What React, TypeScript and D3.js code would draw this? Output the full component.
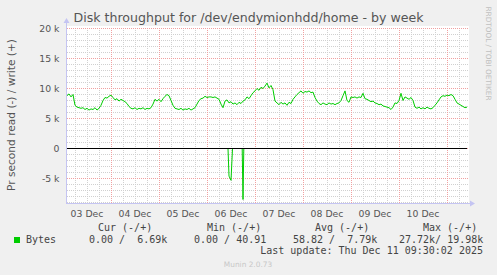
import React from "react";
import * as d3 from "d3";

const W = 497;
const H = 275;

// ---- data ----
const title = "Disk throughput for /dev/endymionhdd/home - by week";
const yAxisTitle = "Pr second read (-) / write (+)";
const startTime = new Date(Date.UTC(2025, 11, 3, 2, 0));
const endTime = new Date(Date.UTC(2025, 11, 11, 10, 0));
const dayLabels = ["03 Dec", "04 Dec", "05 Dec", "06 Dec", "07 Dec", "08 Dec", "09 Dec", "10 Dec"];
const yTicks = [-5, 0, 5, 10, 15, 20];

// write (+) values in k bytes/s, one per hour from startTime
const writeValues = [
  8.8, 9.1, 8.6, 9.0, 7.2, 6.9, 6.8, 6.7, 6.8,
  6.5, 6.7, 6.4, 6.6, 6.5, 6.8, 6.4, 6.7,
  7.2, 8.0, 8.5, 8.4, 8.7, 8.9, 8.5,
  8.1, 8.3, 7.9, 8.2, 8.0, 7.8, 7.5, 7.0,
  6.7, 6.6, 6.8, 6.5, 6.7, 6.6, 6.8, 6.5, 6.7, 6.6, 6.8,
  7.4, 8.2, 7.9, 8.2, 7.8, 8.3,
  8.7, 9.0, 8.8, 8.0, 7.2, 6.7,
  6.6, 6.5, 6.7, 6.4, 6.6, 6.5, 6.7, 6.4, 6.6, 6.8,
  7.4, 8.0, 8.3, 8.4, 8.7, 8.5, 8.6, 8.6,
  8.5, 8.6, 8.4, 8.2, 7.4, 6.8, 7.9, 8.1,
  7.6, 7.8, 7.4, 7.6, 7.3, 7.7, 7.5, 7.9, 8.1,
  8.6, 8.3, 8.8,
  9.3, 9.6, 10.0, 9.7, 10.2, 10.0, 10.4, 10.9, 10.1, 10.5, 9.8,
  7.9, 7.6, 7.3, 7.7, 7.4, 7.6, 7.2, 7.7, 7.5,
  8.2, 8.6, 9.0, 9.3, 9.6, 9.2, 9.5, 9.4, 9.6, 9.3, 9.4,
  8.5, 7.9, 7.5, 7.3, 7.6, 7.4, 7.3, 7.6, 7.4, 7.5, 7.3, 7.5,
  7.6, 8.0, 8.8, 9.6, 8.0, 7.7, 8.6,
  8.5, 8.6, 8.4, 8.6, 8.5, 9.2, 8.3, 8.2,
  8.0, 7.8, 7.9, 7.6, 7.5, 7.3, 7.4, 7.1, 7.0, 6.9,
  6.8, 6.5, 6.9, 7.6, 7.5, 8.0,
  9.2, 8.0, 8.6, 8.4, 8.2, 8.5, 8.0,
  6.9, 6.7, 6.9, 6.6, 6.8, 6.6, 6.9, 6.7, 6.6, 6.8,
  7.2, 7.6, 8.1, 8.6, 8.8, 8.7, 8.9, 8.8, 9.0, 8.8,
  8.2, 7.6, 7.4, 7.2, 7.0, 6.8, 6.9,
];

// read (-) samples: hours after startTime and values in k bytes/s
const readHours = [0, 80.5, 81, 82, 82.75, 87.6, 88, 88.4, 200];
const readValues = [0, 0, -4.6, -5.3, 0, 0, -8.5, 0, 0];

const legendHeaders = ["Cur (-/+)", "Min (-/+)", "Avg (-/+)", "Max (-/+)"];
const legendValues = ["0.00 /  6.69k", "0.00 / 40.91", "58.82 /  7.79k", "27.72k/ 19.98k"];
const lastUpdate = "Last update: Thu Dec 11 09:30:02 2025";
const footer = "Munin 2.0.73";
const sideText = "RRDTOOL / TOBI OETIKER";

// ---- layout ----
const left = 67;
const right = 467;
const top = 28;
const bottom = 203;

export default function App() {
  const x = d3.scaleUtc().domain([startTime, endTime]).range([left, right]);
  const y = d3.scaleLinear().domain([-5, 20]).range([178.5, 28.5]);
  const hour = (h: number) => startTime.getTime() + h * 3600000;

  const writeLine = d3
    .line<number>()
    .x((_, i) => x(new Date(hour(i))))
    .y((d) => y(d));
  const readLine = d3
    .line<number>()
    .x((_, i) => x(new Date(hour(readHours[i]))))
    .y((d) => y(d));

  const yMin = y.invert(bottom);
  const minorY = d3.range(Math.ceil(yMin), 21, 1).filter((v) => v % 5 !== 0);
  const majorY = d3.range(Math.ceil(yMin / 5) * 5, 21, 5);
  const minorX = d3.utcHour.every(6)!.range(startTime, endTime).filter((d) => d.getUTCHours() !== 0);
  const majorX = d3.utcDay.range(startTime, endTime);
  const labelDays = majorX.map((d) => d3.utcHour.offset(d, -12)).slice(0, dayLabels.length);

  const axisColor = "#c4c4f2";
  const textColor = "#555";
  const sans = "'DejaVu Sans', sans-serif";
  const mono = "'DejaVu Sans Mono', monospace";

  const headerX = [98, 207, 315, 423];
  const valueX = [89, 194, 293, 399];

  return (
    <svg
      width={W}
      height={H}
      style={{ position: "fixed", left: 0, top: 0, display: "block" }}
      xmlns="http://www.w3.org/2000/svg"
    >
      <rect x={0} y={0} width={W} height={H} fill="#f0f0f0" />
      <rect x={left - 1} y={top - 2} width={right - left + 3} height={bottom - top + 2} fill="#ffffff" />

      {/* minor grid */}
      {minorY.map((v) => (
        <line key={"my" + v} x1={left} x2={right + 1} y1={y(v)} y2={y(v)} stroke="#d0d0d0" strokeDasharray="1,1" />
      ))}
      {minorX.map((d) => (
        <line
          key={"mx" + d.getTime()}
          x1={Math.round(x(d)) + 0.5}
          x2={Math.round(x(d)) + 0.5}
          y1={top}
          y2={bottom}
          stroke="#d0d0d0"
          strokeDasharray="1,1"
        />
      ))}
      {/* major grid */}
      {majorY.map((v) => (
        <line key={"My" + v} x1={left} x2={right + 1} y1={y(v)} y2={y(v)} stroke="#f0a0a0" strokeDasharray="1,1" />
      ))}
      {majorX.map((d) => (
        <line
          key={"Mx" + d.getTime()}
          x1={Math.round(x(d)) + 0.5}
          x2={Math.round(x(d)) + 0.5}
          y1={top}
          y2={bottom}
          stroke="#f0a0a0"
          strokeDasharray="1,1"
        />
      ))}

      {/* axes */}
      <line x1={left - 0.5} x2={left - 0.5} y1={bottom + 1} y2={top - 6} stroke={axisColor} />
      <path d={`M${left - 3.5},${top - 5} L${left - 0.5},${top - 10} L${left + 2.5},${top - 5} Z`} fill={axisColor} />
      <line x1={left - 1} x2={right + 4} y1={bottom + 0.5} y2={bottom + 0.5} stroke={axisColor} />
      <path
        d={`M${right + 3},${bottom - 2.5} L${right + 8},${bottom + 0.5} L${right + 3},${bottom + 3.5} Z`}
        fill={axisColor}
      />

      {/* series */}
      <path d={readLine(readValues) || ""} fill="none" stroke="#00cc00" strokeWidth={1} />
      <line x1={left} x2={right} y1={y(0)} y2={y(0)} stroke="#000" strokeWidth={1} />
      <path d={writeLine(writeValues) || ""} fill="none" stroke="#00cc00" strokeWidth={1} />

      {/* y ticks */}
      {yTicks.map((v) => (
        <text key={"yt" + v} x={59.5} y={y(v) + 3.5} textAnchor="end" fontFamily={sans} fontSize={9.3} fill={textColor}>
          {v === 0 ? "0" : `${v} k`}
        </text>
      ))}
      {/* x ticks */}
      {labelDays.map((d, i) => (
        <text key={"xt" + i} x={x(d)} y={216.5} textAnchor="middle" fontFamily={sans} fontSize={9.3} fill={textColor}>
          {dayLabels[i]}
        </text>
      ))}

      {/* titles */}
      <text x={248.5} y={22} textAnchor="middle" fontFamily={sans} fontSize={12.6} fill={textColor}>
        {title}
      </text>
      <text
        transform={`translate(15,115) rotate(-90)`}
        textAnchor="middle"
        fontFamily={sans}
        fontSize={10.6}
        fill={textColor}
      >
        {yAxisTitle}
      </text>
      <text
        transform={`translate(485.5,53.5) rotate(90)`}
        textAnchor="middle"
        fontFamily={sans}
        fontSize={7.3}
        fill="#c0c0c0"
      >
        {sideText}
      </text>

      {/* legend */}
      <rect x={14} y={237} width={6} height={6} fill="#00cc00" />
      <text x={26} y={242.5} fontFamily={mono} fontSize={10} fill="#444" style={{ whiteSpace: "pre" }}>
        Bytes
      </text>
      {legendHeaders.map((t, i) => (
        <text key={"lh" + i} x={headerX[i]} y={231} fontFamily={mono} fontSize={10} fill="#444" style={{ whiteSpace: "pre" }}>
          {t}
        </text>
      ))}
      {legendValues.map((t, i) => (
        <text key={"lv" + i} x={valueX[i]} y={242.5} fontFamily={mono} fontSize={10} fill="#444" style={{ whiteSpace: "pre" }}>
          {t}
        </text>
      ))}
      <text x={483} y={254} textAnchor="end" fontFamily={mono} fontSize={10} fill="#444" style={{ whiteSpace: "pre" }}>
        {lastUpdate}
      </text>
      <text x={248} y={266.5} textAnchor="middle" fontFamily={sans} fontSize={7.4} fill="#c8c8c8">
        {footer}
      </text>
    </svg>
  );
}
